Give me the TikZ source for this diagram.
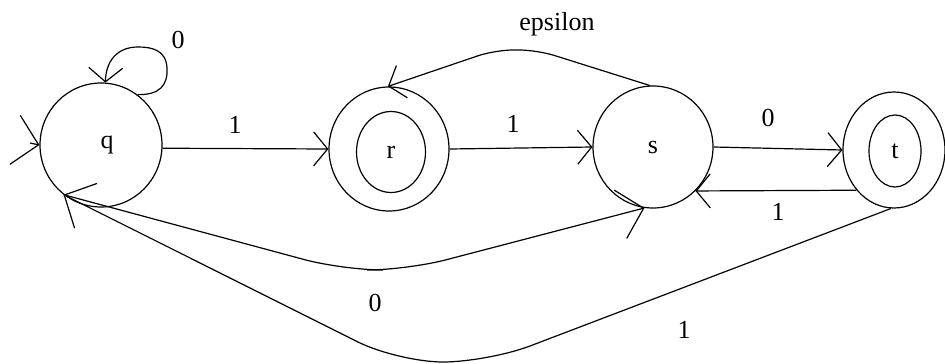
\documentclass[tikz,border=0pt]{standalone}
\usepackage{fontspec}
\setmainfont{Liberation Serif}
\usetikzlibrary{arrows.meta,shapes.geometric,calc}
\begin{document}
\begin{tikzpicture}[x=1pt,y=-1pt,
  every node/.style={font=\fontsize{26}{30}\selectfont},
  st/.style={draw, line width=1.2pt, ellipse, inner sep=0pt},
  arr/.style={line width=1.2pt, -{Straight Barb[length=14pt,width=34pt]}},
  arrbig/.style={line width=1.2pt, -{Straight Barb[length=24pt,width=50pt]}},
  lbl/.style={inner sep=1pt}]
\useasboundingbox (0,0) rectangle (945,364);
% states
\node[st, minimum width=122pt, minimum height=124pt] (q) at (101,145) {};
\node (qt) at (107,145) {q};
\node[st, minimum width=120pt, minimum height=124pt] (r) at (389,149) {};
\node[st, minimum width=69pt, minimum height=81pt] (rin) at (391,152) {r};
\node[st, minimum width=120pt, minimum height=122pt] (s) at (653,147) {s};
\node[st, minimum width=102pt, minimum height=116pt] (t) at (894,150) {};
\node[st, minimum width=52pt, minimum height=72pt] (tin) at (895,151) {t};
% initial arrow
\coordinate (qin) at (30,143);
\draw[arrbig] (qin) -- (q.west);
% self loop on q
\draw[arr] (q.54) .. controls (160,95) and (168,85) .. (167,68)
  .. controls (166,50) and (152,47) .. (138,47)
  .. controls (118,47) and (106,60) .. (q.86);
\node[lbl] (l0a) at (178,40) {0};
% q -> r
\draw[arr] (q.-3) -- (r.west);
\node[lbl] (l1a) at (235,125) {1};
% r -> s
\draw[arr] (r.east) -- (s.west);
\node[lbl] (l1b) at (513,124) {1};
% s -> t
\draw[arr] (s.east) -- (t.west);
\node[lbl] (l0b) at (768,118) {0};
% t -> s
\draw[arr] (t.-133) -- (s.-46);
\node[lbl] (l1c) at (778,212) {1};
% s -> r epsilon
\draw[arr, rounded corners=18pt] (s.93) -- (537,50) -- (495,50) -- (r.91);
\node[lbl] (leps) at (557,24) {epsilon};
% q -> s  (0)
\draw[arrbig, rounded corners=40pt] (q.-127) -- (343,270) -- (407,270) -- (s.-98);
\node[lbl] (l0c) at (375,303) {0};
% t -> q  (1)
\draw[arrbig, rounded corners=45pt] (t.-93) -- (488,362) -- (398,362) -- (q.-127);
\node[lbl] (l1d) at (684,330) {1};
\end{tikzpicture}
\end{document}
